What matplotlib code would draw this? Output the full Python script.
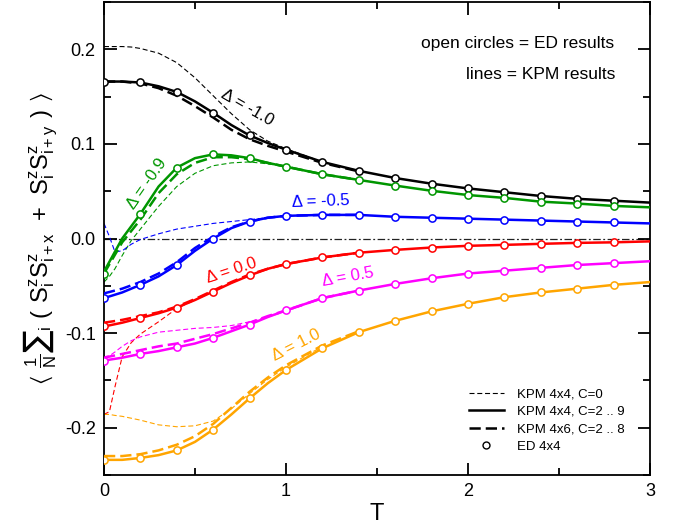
import numpy as np
import matplotlib
matplotlib.use("Agg")
import matplotlib.pyplot as plt
from matplotlib.lines import Line2D
from matplotlib.ticker import MultipleLocator

plt.rcParams['font.family'] = ['Liberation Sans', 'DejaVu Sans']
plt.rcParams['mathtext.fontset'] = 'dejavusans'
plt.rcParams['mathtext.default'] = 'regular'

# temperaturas
T_ed = [0.0, 0.2, 0.4, 0.6, 0.8, 1.0, 1.2, 1.4, 1.6, 1.8, 2.0, 2.2, 2.4, 2.6, 2.8]
T_kpm = [0.0, 0.1, 0.2, 0.3, 0.4, 0.5, 0.6, 0.7, 0.8, 0.9, 1.0,
         1.2, 1.4, 1.6, 1.8, 2.0, 2.2, 2.4, 2.6, 2.8, 3.0]
T_46 = [0.0, 0.1, 0.2, 0.3, 0.4, 0.5, 0.6, 0.7, 0.8, 0.9, 1.0, 1.2, 1.4]
T_c0 = [0.0, 0.03, 0.06, 0.1, 0.15, 0.2, 0.3, 0.4, 0.5, 0.6, 0.7, 0.8, 0.9, 1.0, 1.2]

deltas = ['-1.0', '-0.9', '-0.5', '0.0', '0.5', '1.0']
cores = ['black', '#009600', '#0000ff', '#ff0000', '#ff00ff', '#ffa500']

# ED 4x4
ed = [
    [0.165, 0.165, 0.155, 0.133, 0.109, 0.094, 0.081, 0.0716, 0.064, 0.058, 0.053, 0.049, 0.045, 0.042, 0.040],
    [-0.037, 0.026, 0.075, 0.089, 0.085, 0.076, 0.068, 0.062, 0.056, 0.0505, 0.046, 0.043, 0.039, 0.037, 0.0345],
    [-0.063, -0.049, -0.028, 0.0, 0.018, 0.024, 0.025, 0.025, 0.023, 0.022, 0.021, 0.020, 0.019, 0.018, 0.017],
    [-0.093, -0.084, -0.073, -0.056, -0.039, -0.027, -0.020, -0.015, -0.012, -0.0095, -0.0077, -0.0067, -0.0056, -0.0046, -0.004],
    [-0.129, -0.122, -0.115, -0.105, -0.091, -0.076, -0.063, -0.055, -0.048, -0.042, -0.037, -0.034, -0.031, -0.028, -0.026],
    [-0.234, -0.232, -0.224, -0.202, -0.169, -0.139, -0.116, -0.099, -0.087, -0.077, -0.069, -0.062, -0.057, -0.053, -0.049],
]

# KPM 4x4, C=2 .. 9
kpm44 = [
    [0.166, 0.166, 0.165, 0.161, 0.155, 0.145, 0.133, 0.120, 0.109, 0.101, 0.094,
     0.081, 0.0716, 0.064, 0.058, 0.053, 0.049, 0.045, 0.042, 0.040, 0.038],
    [-0.035, 0.0, 0.026, 0.055, 0.075, 0.085, 0.089, 0.088, 0.085, 0.080, 0.076,
     0.068, 0.062, 0.056, 0.0505, 0.046, 0.043, 0.039, 0.037, 0.0345, 0.033],
    [-0.063, -0.057, -0.049, -0.040, -0.028, -0.013, 0.0, 0.011, 0.018, 0.022, 0.024,
     0.025, 0.025, 0.023, 0.022, 0.021, 0.020, 0.019, 0.018, 0.017, 0.016],
    [-0.093, -0.089, -0.084, -0.079, -0.073, -0.065, -0.056, -0.047, -0.039, -0.032, -0.027,
     -0.020, -0.015, -0.012, -0.0095, -0.0077, -0.0067, -0.0056, -0.0046, -0.004, -0.003],
    [-0.129, -0.126, -0.122, -0.119, -0.115, -0.111, -0.105, -0.098, -0.091, -0.083, -0.076,
     -0.063, -0.055, -0.048, -0.042, -0.037, -0.034, -0.031, -0.028, -0.026, -0.024],
    [-0.234, -0.234, -0.232, -0.229, -0.224, -0.215, -0.202, -0.186, -0.169, -0.153, -0.139,
     -0.116, -0.099, -0.087, -0.077, -0.069, -0.062, -0.057, -0.053, -0.049, -0.046],
]

# KPM 4x6, C=2 .. 8
kpm46 = [
    [0.166, 0.166, 0.164, 0.159, 0.151, 0.140, 0.128, 0.115, 0.105, 0.098, 0.092, 0.080, 0.071],
    [-0.037, -0.004, 0.020, 0.048, 0.068, 0.080, 0.086, 0.086, 0.084, 0.080, 0.076, 0.068, 0.062],
    [-0.058, -0.053, -0.046, -0.037, -0.025, -0.010, 0.002, 0.012, 0.018, 0.022, 0.024, 0.025, 0.025],
    [-0.089, -0.086, -0.082, -0.078, -0.072, -0.064, -0.055, -0.046, -0.038, -0.032, -0.027, -0.020, -0.015],
    [-0.126, -0.122, -0.118, -0.114, -0.111, -0.106, -0.101, -0.095, -0.089, -0.082, -0.076, -0.063, -0.055],
    [-0.230, -0.230, -0.228, -0.224, -0.218, -0.209, -0.196, -0.179, -0.162, -0.147, -0.134, -0.113, -0.098],
]

# KPM 4x4, C=0
kpm_c0 = [
    [0.203, 0.203, 0.203, 0.203, 0.2025, 0.201, 0.196, 0.186, 0.170, 0.151, 0.132, 0.115, 0.103, 0.095, 0.081],
    [-0.046, -0.040, -0.032, -0.018, -0.002, 0.010, 0.034, 0.055, 0.069, 0.077, 0.080, 0.081, 0.079, 0.076, 0.068],
    [0.016, 0.002, -0.014, -0.013, -0.006, -0.001, 0.005, 0.010, 0.013, 0.016, 0.018, 0.020, 0.022, 0.024, 0.025],
    [-0.186, -0.183, -0.157, -0.125, -0.110, -0.101, -0.088, -0.074, -0.065, -0.056, -0.047, -0.039, -0.032, -0.027, -0.020],
    [-0.125, -0.124, -0.120, -0.114, -0.108, -0.104, -0.099, -0.097, -0.095, -0.094, -0.092, -0.088, -0.083, -0.077, -0.063],
    [-0.186, -0.186, -0.187, -0.188, -0.190, -0.192, -0.197, -0.199, -0.198, -0.193, -0.180, -0.164, -0.149, -0.136, -0.114],
]

# posição e rotação dos rótulos Delta
rot_x = [0.79, 0.236, 1.19, 0.70, 1.34, 1.055]
rot_y = [0.138, 0.058, 0.039, -0.034, -0.041, -0.113]
rot_ang = [-30, 55, 2, 18, 10, 27]

fig = plt.figure(figsize=(6.77, 5.26), dpi=100)
ax = fig.add_axes([0.1536, 0.097, 0.8064, 0.899])

ax.plot([0, 3], [0, 0], color='#222222', lw=0.9, ls=(0, (6, 2, 1.5, 2)), zorder=1)

for i in range(len(deltas)):
    c = cores[i]
    ax.plot(T_c0, kpm_c0[i], color=c, lw=0.8, ls=(0, (4.5, 2.5)), zorder=2)
    ax.plot(T_46, kpm46[i], color=c, lw=1.8, ls=(0, (4.5, 2)), zorder=3)
    ax.plot(T_kpm, kpm44[i], color=c, lw=1.8, ls='-', zorder=4)
    ax.plot(T_ed, ed[i], ls='none', marker='o', ms=5.2, mfc='white', mec=c, mew=1.1, zorder=5)
    ax.text(rot_x[i], rot_y[i], 'Δ = ' + deltas[i], color=c, fontsize=12,
            rotation=rot_ang[i], ha='center', va='center', rotation_mode='anchor')

ax.text(0.934, 0.913, 'open circles = ED results', transform=ax.transAxes, ha='right', va='center', fontsize=12.5)
ax.text(0.937, 0.846, 'lines = KPM results', transform=ax.transAxes, ha='right', va='center', fontsize=12.5)

# legenda
handles = [
    Line2D([], [], color='black', lw=0.8, ls=(0, (4.5, 2.5))),
    Line2D([], [], color='black', lw=1.8, ls='-'),
    Line2D([], [], color='black', lw=1.8, ls=(0, (4.5, 2))),
    Line2D([], [], color='black', ls='none', marker='o', ms=5, mfc='white', mew=1.0),
]
labels = ['KPM 4x4, C=0', 'KPM 4x4, C=2 .. 9', 'KPM 4x6, C=2 .. 8', 'ED 4x4']
ax.legend(handles, labels, loc='lower right', bbox_to_anchor=(0.975, 0.022), frameon=False,
          fontsize=9.5, handlelength=2.6, handletextpad=1.0, labelspacing=0.4)

ax.set_xlim(0, 3)
ax.set_ylim(-0.25, 0.25)
ax.xaxis.set_major_locator(MultipleLocator(1))
ax.xaxis.set_minor_locator(MultipleLocator(0.5))
ax.yaxis.set_major_locator(MultipleLocator(0.1))
ax.yaxis.set_minor_locator(MultipleLocator(0.05))
ax.yaxis.set_major_formatter(matplotlib.ticker.FormatStrFormatter('%.1f'))
ax.tick_params(which='both', direction='in', top=True, right=True, width=1.3)
ax.tick_params(which='major', length=9, labelsize=13, pad=6)
ax.tick_params(which='minor', length=5)
for s in ax.spines.values():
    s.set_linewidth(1.3)

ax.set_xlabel('T', fontsize=17, labelpad=2)
ax.set_ylabel(r'$\langle\ \frac{1}{N}\sum{}_i\ (\ S^z_i S^z_{i+x}\ +\ S^z_i S^z_{i+y}\ )\ \rangle$',
              fontsize=17, labelpad=4)

fig.savefig('out.png', dpi=100)
